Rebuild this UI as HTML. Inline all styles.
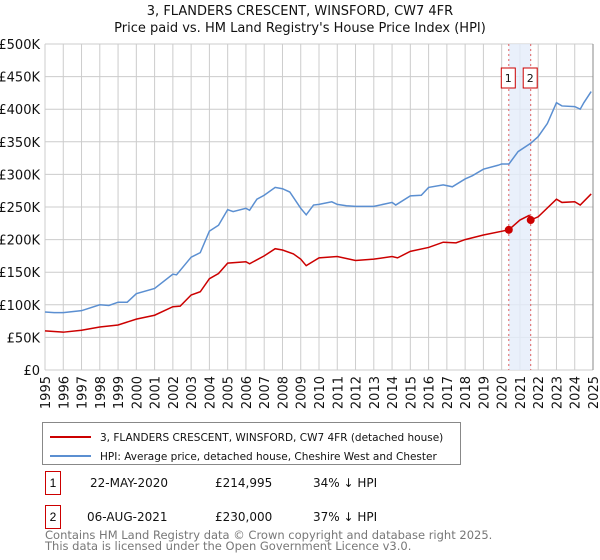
<!DOCTYPE html>
<html><head><meta charset="utf-8"><style>
body{margin:0;background:#fff;font-family:"Liberation Sans","DejaVu Sans",sans-serif;}
#wrap{position:relative;width:600px;height:560px;overflow:hidden}
svg text{font-family:"DejaVu Sans","Liberation Sans",sans-serif}
.tbl{position:absolute;font-size:12px;color:#111;font-family:"DejaVu Sans","Liberation Sans",sans-serif}
.nb{position:absolute;border:1px solid #c00;width:14px;height:22px;text-align:center;line-height:22px;font-size:12px}
</style></head><body>
<div id="wrap">
<svg id="chart" width="600" height="420">
<text x="300" y="15" text-anchor="middle" font-size="13" fill="#111">3, FLANDERS CRESCENT, WINSFORD, CW7 4FR</text>
<text x="300" y="32" text-anchor="middle" font-size="13" fill="#111">Price paid vs. HM Land Registry's House Price Index (HPI)</text>
<g id="grid"></g><g id="band"></g><g id="series"></g><g id="axes"></g>
</svg>
<svg width="600" height="140" style="position:absolute;left:0;top:420px">
<rect x="42.5" y="2.5" width="418" height="42" fill="#fff" stroke="#888"/>
<line x1="50" y1="17" x2="91" y2="17" stroke="#cc0000" stroke-width="2"/>
<text x="100" y="21" font-size="10.5" fill="#111">3, FLANDERS CRESCENT, WINSFORD, CW7 4FR (detached house)</text>
<line x1="50" y1="36" x2="91" y2="36" stroke="#5b8fd1" stroke-width="2"/>
<text x="100" y="40" font-size="10.5" fill="#111">HPI: Average price, detached house, Cheshire West and Chester</text>
</svg>
<div class="nb" style="left:45px;top:471px">1</div>
<div class="tbl" style="left:90px;top:476px">22-MAY-2020</div>
<div class="tbl" style="left:215px;top:476px">£214,995</div>
<div class="tbl" style="left:313px;top:476px">34% ↓ HPI</div>
<div class="nb" style="left:45px;top:505px">2</div>
<div class="tbl" style="left:87px;top:510px">06-AUG-2021</div>
<div class="tbl" style="left:215px;top:510px">£230,000</div>
<div class="tbl" style="left:313px;top:510px">37% ↓ HPI</div>
<div class="tbl" style="left:45px;top:530px;color:#777;font-size:11.5px;line-height:11px">Contains HM Land Registry data © Crown copyright and database right 2025.<br>This data is licensed under the Open Government Licence v3.0.</div>
</div>
<script>
const yTicks=[0,50,100,150,200,250,300,350,400,450,500];
const yTickLabels=["£0","£50K","£100K","£150K","£200K","£250K","£300K","£350K","£400K","£450K","£500K"];
const years=[1995,1996,1997,1998,1999,2000,2001,2002,2003,2004,2005,2006,2007,2008,2009,2010,2011,2012,2013,2014,2015,2016,2017,2018,2019,2020,2021,2022,2023,2024,2025];
const hpiT=[1995,1995.5,1996,1997,1998,1998.5,1999,1999.5,2000,2001,2002,2002.2,2003,2003.5,2004,2004.5,2005,2005.3,2006,2006.2,2006.6,2007,2007.6,2008,2008.4,2009,2009.3,2009.7,2010,2010.7,2011,2011.5,2012,2013,2014,2014.2,2015,2015.6,2016,2016.8,2017.3,2018,2018.4,2019,2019.8,2020,2020.4,2020.9,2021.6,2022,2022.5,2023,2023.3,2024,2024.3,2024.5,2024.9];
const hpiV=[89,88,88,91,100,99,104,104,117,125,147,146,173,180,213,222,246,243,248,245,262,268,280,278,273,248,238,253,254,258,254,252,251,251,257,253,267,268,280,284,281,293,298,308,314,316,316,335,348,358,378,410,405,404,400,410,427];
const ppT=[1995,1995.5,1996,1997,1998,1999,2000,2001,2002,2002.4,2003,2003.5,2004,2004.5,2005,2006,2006.2,2007,2007.6,2008,2008.6,2009,2009.3,2010,2011,2012,2013,2014,2014.3,2015,2016,2016.8,2017.5,2018,2019,2020.39,2021,2021.5,2021.59,2022,2023,2023.3,2024,2024.3,2024.9];
const ppV=[60,59,58,61,66,69,78,84,97,98,115,120,140,148,164,166,163,175,186,184,178,170,160,172,174,168,170,174,172,182,188,196,195,200,207,215,230,237,230,235,262,257,258,253,270];
const saleT=[2020.39,2021.59];
const saleV=[214.995,230];
const saleLabels=["1","2"];
const X=t=>45+(t-1995)*(548/30);
const Y=v=>370-v*0.652;
const NS="http://www.w3.org/2000/svg";
function mk(parent,tag,attrs){const e=document.createElementNS(NS,tag);for(const k in attrs)e.setAttribute(k,attrs[k]);document.getElementById(parent).appendChild(e);return e;}
let b=mk('band','rect',{x:X(saleT[0]),y:44,width:X(saleT[1])-X(saleT[0]),height:326,fill:'#e3ecfa',opacity:0.8});


yTicks.forEach((v,i)=>{
 let l=mk('grid','line',{x1:45,x2:593,y1:Y(v),y2:Y(v),stroke:'#ccc'});
 
 
 let t=mk('axes','text',{x:40,y:Y(v)+5,'text-anchor':'end','font-size':'13',fill:'#111'});
 t.textContent=yTickLabels[i];
 
 
});
years.forEach(yr=>{
 let l=mk('grid','line',{x1:X(yr),x2:X(yr),y1:44,y2:370,stroke:'#ccc'});
 
 
 let t=mk('axes','text',{x:0,y:0,'text-anchor':'end','font-size':'13',fill:'#111',transform:`translate(${X(yr)+5},376) rotate(-90)`});
 t.textContent=yr;
 
 
});
saleT.forEach((t,i)=>{
 let l=mk('band','line',{x1:X(t),x2:X(t),y1:44,y2:370,stroke:'#e06060','stroke-dasharray':'2,3'});
 
 
 let r=mk('axes','rect',{x:X(t)-7.5,y:68,width:14,height:20,fill:'#fff',stroke:'#c00'});
 
 
 let tx=mk('axes','text',{x:X(t)-0.5,y:82,'text-anchor':'middle','font-size':'11',fill:'#111'});
 tx.textContent=saleLabels[i];
 
 
});
let hp=mk('series','polyline',{points:hpiT.map((t,i)=>X(t)+','+Y(hpiV[i])).join(' '),fill:'none',stroke:'#5b8fd1','stroke-width':1.5});


let pp=mk('series','polyline',{points:ppT.map((t,i)=>X(t)+','+Y(ppV[i])).join(' '),fill:'none',stroke:'#cc0000','stroke-width':1.5});


saleT.forEach((t,i)=>{
 let c=mk('series','circle',{cx:X(t),cy:Y(saleV[i]),r:4,fill:'#cc0000'});
 
 
});
let ax=mk('axes','line',{x1:593,x2:593,y1:44,y2:370,stroke:'#888'});


</script>
</body></html>
